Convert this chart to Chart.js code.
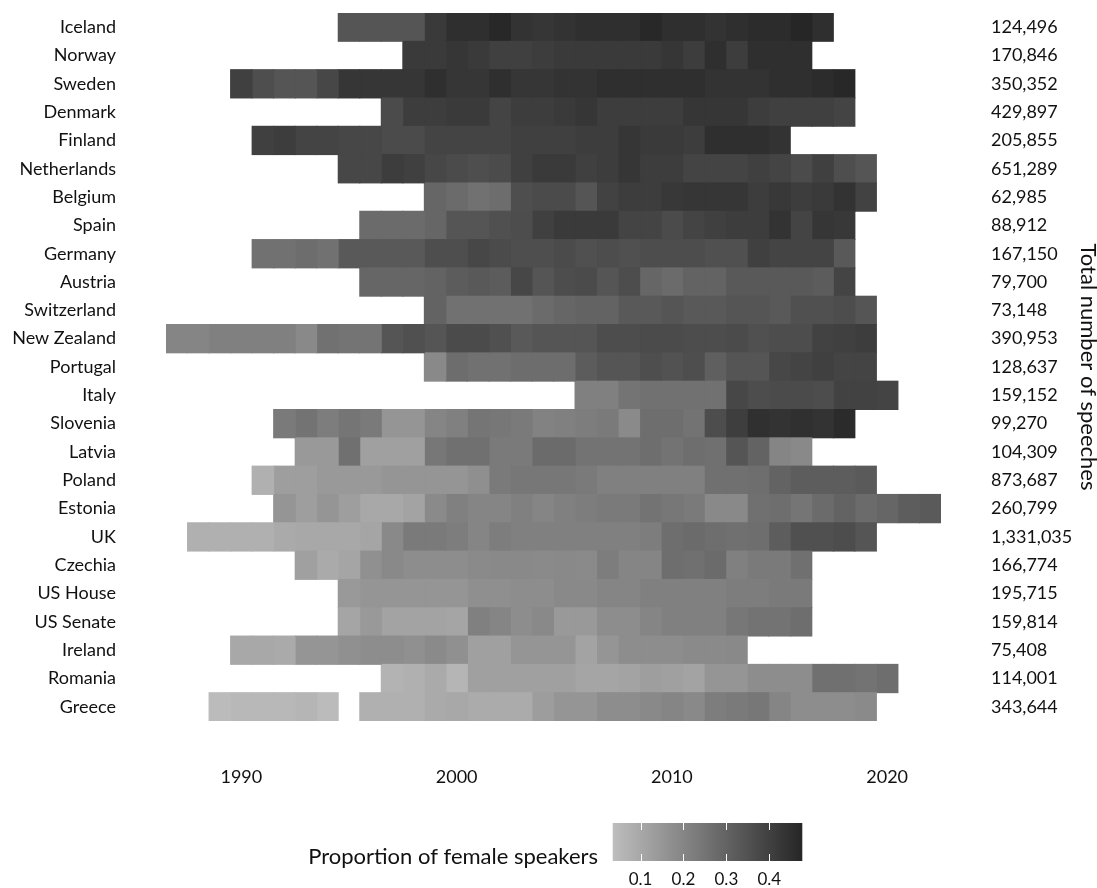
<!DOCTYPE html>
<html>
<head>
<meta charset="utf-8">
<script src="https://cdn.jsdelivr.net/npm/chart.js@4.4.1/dist/chart.umd.min.js"></script>
<style>
  html,body{margin:0;padding:0;background:#fff}
  #wrap{width:1097px;height:888px}
</style>
</head>
<body>
<div id="wrap"><canvas id="heat" width="1097" height="888"></canvas></div>
<script>
// ── DATA ──
const countries = ['Iceland','Norway','Sweden','Denmark','Finland','Netherlands','Belgium','Spain','Germany','Austria',
  'Switzerland','New Zealand','Portugal','Italy','Slovenia','Latvia','Poland','Estonia','UK','Czechia',
  'US House','US Senate','Ireland','Romania','Greece'];
const totals = ['124,496','170,846','350,352','429,897','205,855','651,289','62,985','88,912','167,150','79,700',
  '73,148','390,953','128,637','159,152','99,270','104,309','873,687','260,799','1,331,035','166,774',
  '195,715','159,814','75,408','114,001','343,644'];
// first year of each row
const startYears = [1995,1998,1990,1997,1991,1995,1999,1996,1991,1996,1999,1987,1999,2006,1992,1993,1991,1992,1988,1993,1995,1995,1990,1997,1989];

const iceland = [.34,.34,.34,.34,.42,.45,.45,.47,.44,.43,.44,.45,.45,.45,.47,.45,.45,.44,.45,.46,.46,.477,.45];
const norway = [.42,.42,.43,.42,.40,.40,.41,.42,.42,.42,.42,.42,.43,.41,.45,.41,.45,.45,.45];
const sweden = [.40,.36,.34,.34,.38,.43,.43,.43,.43,.45,.43,.43,.45,.43,.43,.44,.44,.45,.45,.45,.45,.45,.44,.44,.44,.45,.45,.46,.47];
const denmark = [.37,.41,.41,.42,.42,.39,.41,.41,.42,.43,.41,.41,.41,.41,.43,.43,.43,.41,.40,.40,.40,.39];
const finland = [.40,.41,.39,.39,.38,.38,.37,.37,.39,.39,.39,.39,.40,.40,.40,.41,.41,.43,.42,.42,.41,.45,.45,.45,.44];
const netherlands = [.38,.38,.41,.40,.38,.37,.36,.37,.40,.42,.42,.40,.41,.43,.41,.41,.39,.39,.39,.40,.39,.37,.40,.36,.34];
const belgium = [.29,.275,.26,.27,.36,.37,.37,.34,.395,.41,.41,.425,.43,.43,.43,.41,.425,.41,.42,.44,.395];
const spain = [.275,.275,.275,.29,.34,.34,.355,.365,.40,.42,.42,.42,.39,.39,.37,.39,.40,.41,.41,.44,.39,.43,.425];
const germany = [.26,.26,.27,.26,.33,.33,.33,.33,.36,.36,.38,.37,.36,.36,.37,.355,.365,.355,.365,.365,.365,.355,.355,.40,.39,.39,.39,.33];
const austria = [.29,.29,.29,.30,.32,.33,.32,.38,.34,.365,.37,.34,.365,.29,.275,.30,.30,.33,.33,.33,.33,.32,.39];
const switzerland = [.30,.26,.26,.26,.26,.275,.29,.30,.30,.33,.33,.34,.33,.33,.34,.34,.33,.355,.355,.365,.34];
const newZealand = [.20,.20,.215,.215,.215,.215,.19,.26,.25,.25,.34,.355,.34,.37,.37,.355,.33,.34,.34,.34,
  .365,.365,.37,.37,.365,.365,.37,.355,.365,.365,.395,.40,.41];
const portugal = [.19,.27,.26,.26,.27,.27,.27,.32,.34,.34,.36,.35,.36,.31,.34,.34,.38,.39,.40,.39,.39];
const italy = [.215,.215,.25,.26,.26,.26,.26,.38,.365,.37,.37,.365,.395,.395,.39];
const slovenia = [.233,.253,.224,.247,.233,.154,.154,.20,.215,.247,.242,.233,.21,.215,.224,.233,.186,.267,.267,.253,
  .365,.407,.448,.44,.448,.44,.462];
const latvia = [.143,.143,.262,.122,.122,.122,.242,.262,.262,.233,.233,.276,.276,.253,.253,.253,.267,.253,.267,.262,.34,.30,.20,.19];
const poland = [.076,.128,.128,.143,.143,.143,.154,.154,.154,.154,.172,.233,.242,.242,.242,.233,.215,.215,.215,.215,
  .215,.262,.262,.267,.30,.317,.317,.317,.326];
const estonia = [.154,.128,.154,.128,.10,.10,.113,.186,.215,.20,.20,.215,.20,.215,.224,.233,.233,.253,.242,.233,
  .19,.19,.262,.267,.247,.276,.30,.276,.29,.317,.326];
const uk = [.076,.076,.076,.076,.093,.10,.10,.10,.107,.19,.233,.233,.224,.20,.224,.215,.215,.215,.215,.215,
  .215,.224,.267,.276,.267,.262,.267,.317,.355,.355,.365,.34];
const czechia = [.122,.093,.107,.169,.19,.177,.177,.177,.186,.19,.19,.186,.19,.186,.224,.20,.20,.267,.262,.276,.215,.233,.233,.262];
const usHouse = [.143,.154,.154,.154,.154,.154,.172,.172,.177,.177,.19,.19,.20,.20,.215,.215,.215,.215,.224,.224,.233,.233];
const usSenate = [.107,.143,.113,.113,.113,.107,.215,.20,.177,.19,.143,.143,.177,.177,.20,.215,.215,.215,.242,.253,.253,.267];
const ireland = [.099,.099,.093,.154,.154,.169,.177,.177,.169,.186,.169,.122,.122,.154,.154,.154,.113,.154,.177,.177,.177,.186,.186,.19];
const romania = [.067,.076,.093,.061,.122,.122,.122,.122,.122,.107,.107,.113,.128,.122,.113,.154,.154,.177,.177,.177,.262,.262,.253,.267];
const greece = [.044,.052,.052,.052,.061,.044,null,.076,.076,.076,.093,.099,.09,.09,.09,.13,.154,.154,.177,.177,
  .19,.20,.19,.224,.233,.242,.20,.177,.177,.177,.186];

const xTicks = [1990,2000,2010,2020];
const legendTicks = [0.1,0.2,0.3,0.4];
const valueRange = [0.035,0.477];
const yearRange = [1987,2022];

// ── HELPERS ──
const FONT = 'Lato';
const INK = '#111';
const shade = v => {
  const t = Math.max(0, Math.min(1, (v-valueRange[0])/(valueRange[1]-valueRange[0])));
  const g = Math.round(190 - t*152);
  return `rgb(${g},${g},${g})`;
};

const rows = [iceland,norway,sweden,denmark,finland,netherlands,belgium,spain,germany,austria,switzerland,newZealand,
  portugal,italy,slovenia,latvia,poland,estonia,uk,czechia,usHouse,usSenate,ireland,romania,greece];
const years = [];
for (let y=yearRange[0]; y<=yearRange[1]; y++) years.push(y);

// one dataset per year, each cell a floating bar [yr-.5, yr+.5]
const datasets = years.map(yr => ({
  label: String(yr),
  data: rows.map((r,i) => { const v=r[yr-startYears[i]]; return v==null ? null : [yr-0.5, yr+0.5]; }),
  backgroundColor: rows.map((r,i) => { const v=r[yr-startYears[i]]; return v==null ? 'rgba(0,0,0,0)' : shade(v); }),
  borderWidth: 0, inflateAmount: 0.5, grouped: false, barPercentage: 1, categoryPercentage: 1
}));

// ── COLORBAR ──
const colorbar = {
  id: 'colorbar',
  afterDraw(chart) {
    const c = chart.ctx, L = 612.7, R = 802.3, T = 823, B = 861;
    const px = v => L + (v-valueRange[0])/(valueRange[1]-valueRange[0])*(R-L);
    const grad = c.createLinearGradient(L,0,R,0);
    for (let i=0;i<=20;i++) grad.addColorStop(i/20, shade(valueRange[0]+i/20*(valueRange[1]-valueRange[0])));
    c.save();
    c.fillStyle = grad; c.fillRect(L,T,R-L,B-T);
    c.strokeStyle = '#fff'; c.lineWidth = 1;
    legendTicks.forEach(v => {
      const x = Math.round(px(v))+0.5;
      c.beginPath(); c.moveTo(x,T); c.lineTo(x,T+7); c.moveTo(x,B-7); c.lineTo(x,B); c.stroke();
    });
    c.fillStyle = INK; c.font = `17px ${FONT}`; c.textAlign = 'center'; c.textBaseline = 'middle';
    legendTicks.forEach(v => c.fillText(v.toFixed(1), px(v), 880));
    c.font = `22px ${FONT}`; c.textAlign = 'right';
    c.fillText('Proportion of female speakers', 598, 857);
    c.restore();
  }
};

// grid hidden, tickLength used as the label gap (ticks.padding would also pad the top)
const gap = {display:false, drawTicks:true, tickLength:50};
new Chart(document.getElementById('heat'), {
  type: 'bar',
  data: {labels: countries, datasets},
  options: {
    indexAxis: 'y', responsive: false, animation: false,
    layout: {padding: {top: 13, left: 0, right: 0, bottom: 0}},
    plugins: {legend: {display: false}, tooltip: {enabled: false}},
    scales: {
      x: {
        type: 'linear', min: yearRange[0]-0.5, max: yearRange[1]+0.5,
        grid: {display:false, drawTicks:true, tickLength:45}, border: {display: false},
        afterBuildTicks: s => { s.ticks = xTicks.map(v => ({value: v})); },
        afterFit: s => { s.height = 167; },
        ticks: {padding: 0, autoSkip: false, maxRotation: 0, callback: v => String(v), color: INK, font: {family: FONT, size: 18}}
      },
      y: {
        type: 'category', position: 'left', offset: true,
        grid: gap, border: {display: false},
        afterFit: s => { s.width = 166; },
        ticks: {padding: 0, color: INK, font: {family: FONT, size: 18}}
      },
      y2: {
        type: 'category', position: 'right', labels: totals, offset: true,
        grid: gap, border: {display: false},
        afterFit: s => { s.width = 156; },
        ticks: {padding: 0, color: INK, font: {family: FONT, size: 18}},
        title: {display: true, text: 'Total number of speeches', color: INK, padding: {top: -2, bottom: 0},
          font: {family: FONT, size: 22, lineHeight: 1}}
      }
    }
  },
  plugins: [colorbar]
});
</script>
</body>
</html>
